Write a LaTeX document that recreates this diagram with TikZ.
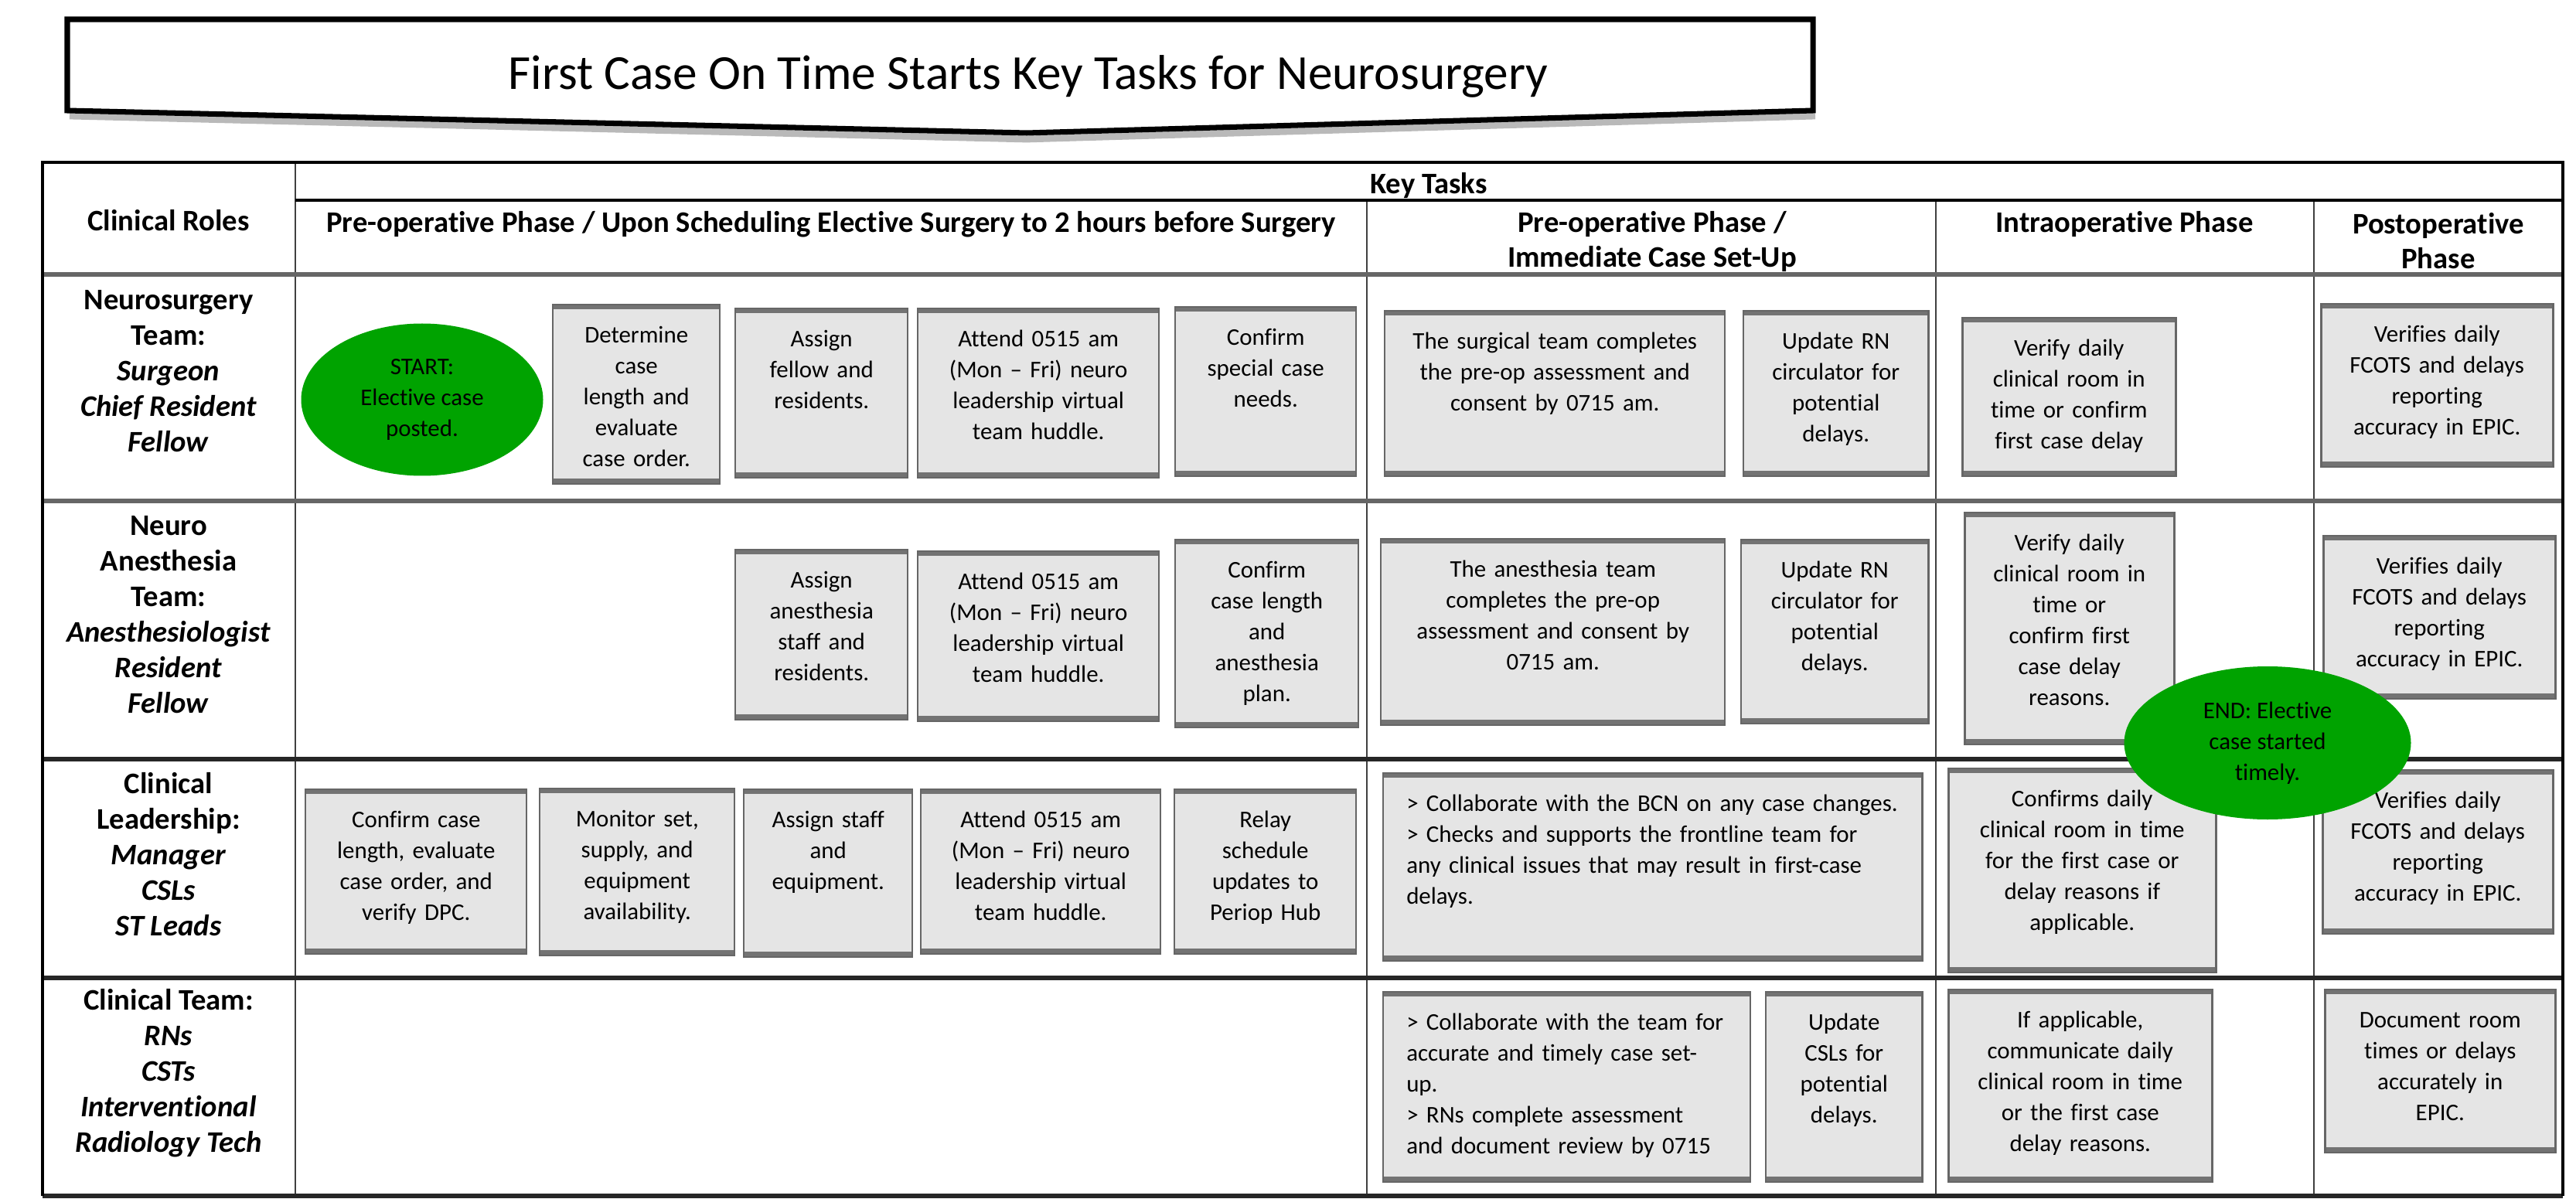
\documentclass[tikz,border=0pt]{standalone}
\usepackage{fontspec}
\setmainfont[Ligatures = NoCommon]{Carlito}
\usepackage{xcolor}
\usetikzlibrary{shapes.geometric}
\definecolor{startgreen}{RGB}{0,163,0}
\tikzset{
	task/.style = {draw = black!60, line width = 0.7pt, fill = gray!20,
		anchor = north west, align = center, inner xsep = 0pt, inner ysep = 0pt,
		text height = 0.49cm, font = \fontsize{8.8}{11.4}\selectfont,
		path picture = {
			\fill [black!55] (path picture bounding box.north west) rectangle
				([yshift = -0.06cm] path picture bounding box.north east);
			\fill [black!55] (path picture bounding box.south west) rectangle
				([yshift = 0.07cm] path picture bounding box.south east);
		}},
	tasklist/.style = {task, align = left, inner xsep = 0.30cm},
	milestone/.style = {ellipse, fill = startgreen, inner sep = 0pt, align = center,
		font = \fontsize{8.8}{11.4}\selectfont},
	role/.style = {align = center, font = \bfseries\fontsize{11}{13.1}\selectfont},
	phase/.style = {align = center, font = \bfseries\fontsize{11}{12.8}\selectfont},
	grayrule/.style = {line width = 1.6pt, black!60},
	darkrule/.style = {line width = 1.6pt, black!85},
	colrule/.style = {line width = 0.8pt, black!75}
}

\begin{document}
\begin{tikzpicture}
		\useasboundingbox (0, 0) rectangle (33.32, -15.51);
		\draw [line width = 2.5pt, gray!55] (0.90, -1.50) -- (13.28, -1.80) -- (23.48, -1.50);
		\draw [line width = 2pt, fill = white]
		(0.87, -0.25) -- (23.45, -0.25) -- (23.45, -1.43) --
		(13.28, -1.72) -- (0.87, -1.43) -- cycle;
		\node [font = \fontsize{18}{22}\selectfont] (title) at (13.30, -0.99)
			{First Case On Time Starts Key Tasks for Neurosurgery};

		\draw [colrule] (3.82, -2.10) -- (3.82, -15.47);
		\draw [colrule] (17.68, -2.59) -- (17.68, -15.47);
		\draw [colrule] (25.04, -2.59) -- (25.04, -15.47);
		\draw [colrule] (29.93, -2.59) -- (29.93, -15.47);
		\draw [line width = 1.1pt] (3.82, -2.59) -- (33.15, -2.59);
		\draw [grayrule] (0.55, -3.55) -- (33.15, -3.55);
		\draw [grayrule] (0.55, -6.48) -- (33.15, -6.48);
		\draw [darkrule] (0.55, -9.82) -- (33.15, -9.82);
		\draw [darkrule] (0.55, -12.65) -- (33.15, -12.65);
		\draw [darkrule] (0.55, -15.47) -- (33.15, -15.47);
		\draw [line width = 1.2pt] (0.55, -15.47) -- (0.55, -2.10) -- (33.15, -2.10) -- (33.15, -15.47);

		\node [phase] (roles) at (2.18, -2.85) {Clinical Roles};
		\node [phase] (keytasks) at (18.48, -2.40) {Key Tasks};
		\node [phase] (ph1) at (10.75, -2.90)
			{Pre-operative Phase / Upon Scheduling Elective Surgery to 2 hours before Surgery};
		\node [phase] (ph2) at (21.37, -3.12) {Pre-operative Phase /\\Immediate Case Set-Up};
		\node [phase] (ph3) at (27.48, -2.90) {Intraoperative Phase};
		\node [phase] (ph4) at (31.54, -3.12) {Postoperative\\Phase};

		\node [role] (neuro) at (2.18, -4.80)
			{Neurosurgery\\Team:\\\textit{Surgeon}\\\textit{Chief Resident}\\\textit{Fellow}};
		\node [role] (anes) at (2.18, -7.95)
			{Neuro\\Anesthesia\\Team:\\\textit{Anesthesiologist}\\\textit{Resident}\\\textit{Fellow}};
		\node [role] (lead) at (2.18, -11.05)
			{Clinical\\Leadership:\\\textit{Manager}\\\textit{CSLs}\\\textit{ST Leads}};
		\node [role] (team) at (2.18, -13.88)
			{Clinical Team:\\\textit{RNs}\\\textit{CSTs}\\\textit{Interventional}\\\textit{Radiology Tech}};

		\node [milestone, minimum width = 3.13cm, minimum height = 1.97cm] (start) at (5.46, -5.17)
			{START:\\Elective case\\posted.};
		\node [task, text width = 2.16cm, text depth = 1.83cm] (a1) at (7.14, -3.93)
			{Determine\\case\\length and\\evaluate\\case order.};
		\node [task, text width = 2.23cm, text depth = 1.70cm] (a2) at (9.50, -3.98)
			{Assign\\fellow and\\residents.};
		\node [task, text width = 3.12cm, text depth = 1.70cm] (a3) at (11.86, -3.98)
			{Attend 0515 am\\(Mon -- Fri) neuro\\leadership virtual\\team huddle.};
		\node [task, text width = 2.34cm, text depth = 1.70cm] (a4) at (15.19, -3.96)
			{Confirm\\special case\\needs.};
		\node [task, text width = 4.40cm, text depth = 1.65cm] (a5) at (17.90, -4.01)
			{The surgical team completes\\the pre-op assessment and\\consent by 0715 am.};
		\node [task, text width = 2.39cm, text depth = 1.65cm] (a6) at (22.54, -4.01)
			{Update RN\\circulator for\\potential\\delays.};
		\node [task, text width = 2.76cm, text depth = 1.56cm] (a7) at (25.37, -4.10)
			{Verify daily\\clinical room in\\time or confirm\\first case delay};
		\node [task, text width = 3.00cm, text depth = 1.62cm] (a8) at (30.01, -3.92)
			{Verifies daily\\FCOTS and delays\\reporting\\accuracy in EPIC.};

		\node [task, text width = 2.23cm, text depth = 1.71cm] (b1) at (9.50, -7.10)
			{Assign\\anesthesia\\staff and\\residents.};
		\node [task, text width = 3.12cm, text depth = 1.71cm] (b2) at (11.86, -7.12)
			{Attend 0515 am\\(Mon -- Fri) neuro\\leadership virtual\\team huddle.};
		\node [task, text width = 2.37cm, text depth = 1.94cm] (b3) at (15.19, -6.97)
			{Confirm\\case length\\and\\anesthesia\\plan.};
		\node [task, text width = 4.45cm, text depth = 1.92cm] (b4) at (17.85, -6.96)
			{The anesthesia team\\completes the pre-op\\assessment and consent by\\0715 am.};
		\node [task, text width = 2.42cm, text depth = 1.89cm] (b5) at (22.51, -6.97)
			{Update RN\\circulator for\\potential\\delays.};
		\node [task, text width = 2.71cm, text depth = 2.51cm] (b6) at (25.40, -6.62)
			{Verify daily\\clinical room in\\time or\\confirm first\\case delay\\reasons.};
		\node [task, text width = 3.00cm, text depth = 1.62cm] (b7) at (30.04, -6.92)
			{Verifies daily\\FCOTS and delays\\reporting\\accuracy in EPIC.};

		\node [task, text width = 2.86cm, text depth = 1.64cm] (c1) at (3.94, -10.20)
			{Confirm case\\length, evaluate\\case order, and\\verify DPC.};
		\node [task, text width = 2.52cm, text depth = 1.67cm] (c2) at (6.97, -10.19)
			{Monitor set,\\supply, and\\equipment\\availability.};
		\node [task, text width = 2.18cm, text depth = 1.68cm] (c3) at (9.61, -10.20)
			{Assign staff\\and\\equipment.};
		\node [task, text width = 3.10cm, text depth = 1.64cm] (c4) at (11.90, -10.20)
			{Attend 0515 am\\(Mon -- Fri) neuro\\leadership virtual\\team huddle.};
		\node [task, text width = 2.35cm, text depth = 1.64cm] (c5) at (15.18, -10.20)
			{Relay\\schedule\\updates to\\Periop Hub};
		\node [tasklist, text width = 6.37cm, text depth = 1.94cm] (c6) at (17.88, -9.99)
			{> Collaborate with the BCN on any case changes.\\> Checks and supports the frontline team for\\any clinical issues that may result in first-case\\delays.};
		\node [task, text width = 3.46cm, text depth = 2.15cm] (c7) at (25.19, -9.93)
			{Confirms daily\\clinical room in time\\for the first case or\\delay reasons if\\applicable.};
		\node [task, text width = 2.98cm, text depth = 1.63cm] (c8) at (30.03, -9.95)
			{Verifies daily\\FCOTS and delays\\reporting\\accuracy in EPIC.};

		\node [tasklist, text width = 4.15cm, text depth = 1.97cm] (d1) at (17.88, -12.82)
			{> Collaborate with the team for\\accurate and timely case set-\\up.\\> RNs complete assessment\\and document review by 0715};
		\node [task, text width = 2.02cm, text depth = 1.97cm] (d2) at (22.83, -12.82)
			{Update\\CSLs for\\potential\\delays.};
		\node [task, text width = 3.41cm, text depth = 2.00cm] (d3) at (25.19, -12.79)
			{If applicable,\\communicate daily\\clinical room in time\\or the first case\\delay reasons.};
		\node [task, text width = 2.98cm, text depth = 1.62cm] (d4) at (30.06, -12.79)
			{Document room\\times or delays\\accurately in\\EPIC.};

		\node [milestone, minimum width = 3.71cm, minimum height = 1.98cm] (end) at (29.33, -9.61)
			{END: Elective\\case started\\timely.};
	\end{tikzpicture}
\end{document}
